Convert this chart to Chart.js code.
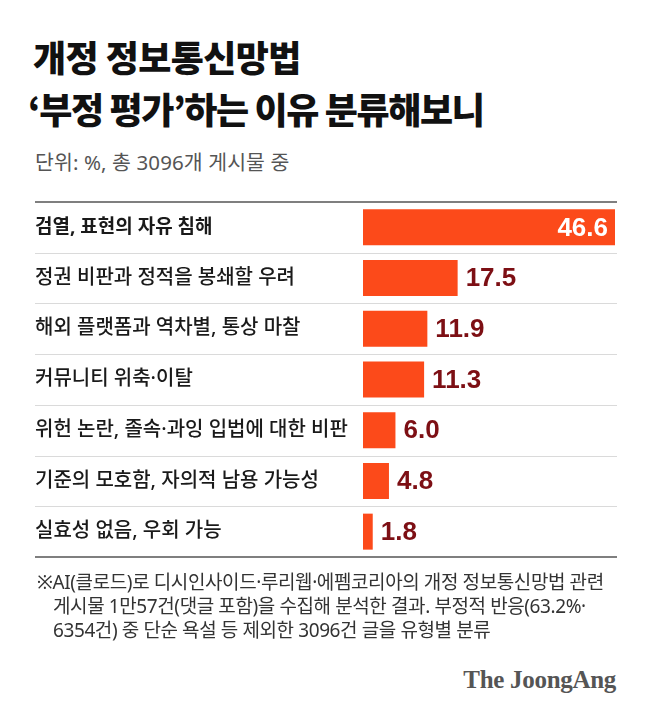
<!DOCTYPE html>
<html>
<head>
<meta charset="utf-8">
<script src="https://cdn.jsdelivr.net/npm/chart.js@4"></script>
<style>
  body { margin: 0; background: #fff; }
  #wrap { position: relative; width: 658px; height: 719px; overflow: hidden; font-family: 'Noto Sans', 'Noto Sans CJK KR', sans-serif; }
  .title { position: absolute; left: 33px; font-family: 'Noto Sans CJK KR', sans-serif; font-size: 36px; font-weight: 900; color: #111; letter-spacing: -0.6px; line-height: 1; }
  .sub { position: absolute; left: 35px; top: 146px; font-size: 20.5px; color: #555; letter-spacing: 0.1px; }
  .note { position: absolute; left: 37px; top: 570px; font-size: 19px; color: #333; line-height: 24px; letter-spacing: -0.4px; }
  .note div { padding-left: 16px; }
  .note div:first-child { padding-left: 0; }
  .logo { position: absolute; right: 42px; top: 666px; font-family: 'Liberation Serif', serif; font-weight: bold; font-size: 25px; color: #555; letter-spacing: -0.3px; }
  canvas { position: absolute; left: 0; top: 190px; }
</style>
</head>
<body>
<div id="wrap">
  <div class="title" style="top:38px">개정 정보통신망법</div>
  <div class="title" style="top:90px;left:28px;letter-spacing:-1.4px">‘부정 평가’하는 이유 분류해보니</div>
  <div class="sub">단위: %, 총 3096개 게시물 중</div>
  <canvas id="reasonchart" width="658" height="380"></canvas>
  <div class="note">
    <div>※AI(클로드)로 디시인사이드·루리웹·에펨코리아의 개정 정보통신망법 관련</div>
    <div>게시물 1만57건(댓글 포함)을 수집해 분석한 결과. 부정적 반응(63.2%·</div>
    <div>6354건) 중 단순 욕설 등 제외한 3096건 글을 유형별 분류</div>
  </div>
  <div class="logo">The JoongAng</div>
</div>
<script>
const reasons = ['검열, 표현의 자유 침해', '정권 비판과 정적을 봉쇄할 우려', '해외 플랫폼과 역차별, 통상 마찰',
  '커뮤니티 위축·이탈', '위헌 논란, 졸속·과잉 입법에 대한 비판', '기준의 모호함, 자의적 남용 가능성', '실효성 없음, 우회 가능'];
const shares = [46.6, 17.5, 11.9, 11.3, 6.0, 4.8, 1.8];

// row separators, top and bottom rules
const rowLines = {
  id: 'rowLines',
  beforeDatasetsDraw(chart) {
    const ctx = chart.ctx, y = chart.scales.y, area = chart.chartArea;
    ctx.save();
    ctx.strokeStyle = '#dadada';
    ctx.lineWidth = 1;
    for (let i = 0; i < reasons.length - 1; i++) {
      const py = Math.round((y.getPixelForValue(i) + y.getPixelForValue(i + 1)) / 2) + 0.5;
      ctx.beginPath(); ctx.moveTo(35, py); ctx.lineTo(area.right + 2, py); ctx.stroke();
    }
    ctx.strokeStyle = '#555';
    ctx.lineWidth = 1.5;
    [area.top, area.bottom].forEach(py => {
      ctx.beginPath(); ctx.moveTo(35, py); ctx.lineTo(area.right + 2, py); ctx.stroke();
    });
    ctx.restore();
  }
};

// value labels
const valueLabels = {
  id: 'valueLabels',
  afterDatasetsDraw(chart) {
    const ctx = chart.ctx;
    ctx.save();
    ctx.font = "bold 26px 'Liberation Sans Narrow', 'Liberation Sans', sans-serif";
    ctx.textBaseline = 'middle';
    chart.getDatasetMeta(0).data.forEach((bar, i) => {
      const txt = shares[i].toFixed(1);
      if (i === 0) {
        ctx.fillStyle = '#fff';
        ctx.textAlign = 'right';
        ctx.fillText(txt, bar.x - 7, bar.y + 1);
      } else {
        ctx.fillStyle = '#7d0f14';
        ctx.textAlign = 'left';
        ctx.fillText(txt, bar.x + 8, bar.y + 1);
      }
    });
    ctx.restore();
  }
};

const reasonconfig = {
  type: 'bar',
  data: {
    labels: reasons,
    datasets: [{
      data: shares,
      backgroundColor: '#fc4a1a',
      borderWidth: 0,
      categoryPercentage: 1,
      barPercentage: 0.71
    }]
  },
  options: {
    indexAxis: 'y',
    responsive: false,
    animation: false,
    layout: { padding: { left: 35, right: 43, top: 10, bottom: 13 } },
    scales: {
      x: { display: false, min: 0, max: Math.max(...shares) },
      y: {
        grid: { display: false },
        border: { display: false },
        afterFit(scale) { scale.width = 328; },
        ticks: {
          crossAlign: 'far',
          padding: 0,
          color: '#1a1a1a',
          font: ctx => ({
            family: "'Noto Sans', 'Noto Sans CJK KR', sans-serif",
            size: ctx.index === 0 ? 19 : 20,
            weight: ctx.index === 0 ? 'bold' : '500'
          })
        }
      }
    },
    plugins: { legend: { display: false }, tooltip: { enabled: false } }
  },
  plugins: [rowLines, valueLabels]
};

const reasonchart = new Chart(document.getElementById('reasonchart'), reasonconfig);
</script>
</body>
</html>
